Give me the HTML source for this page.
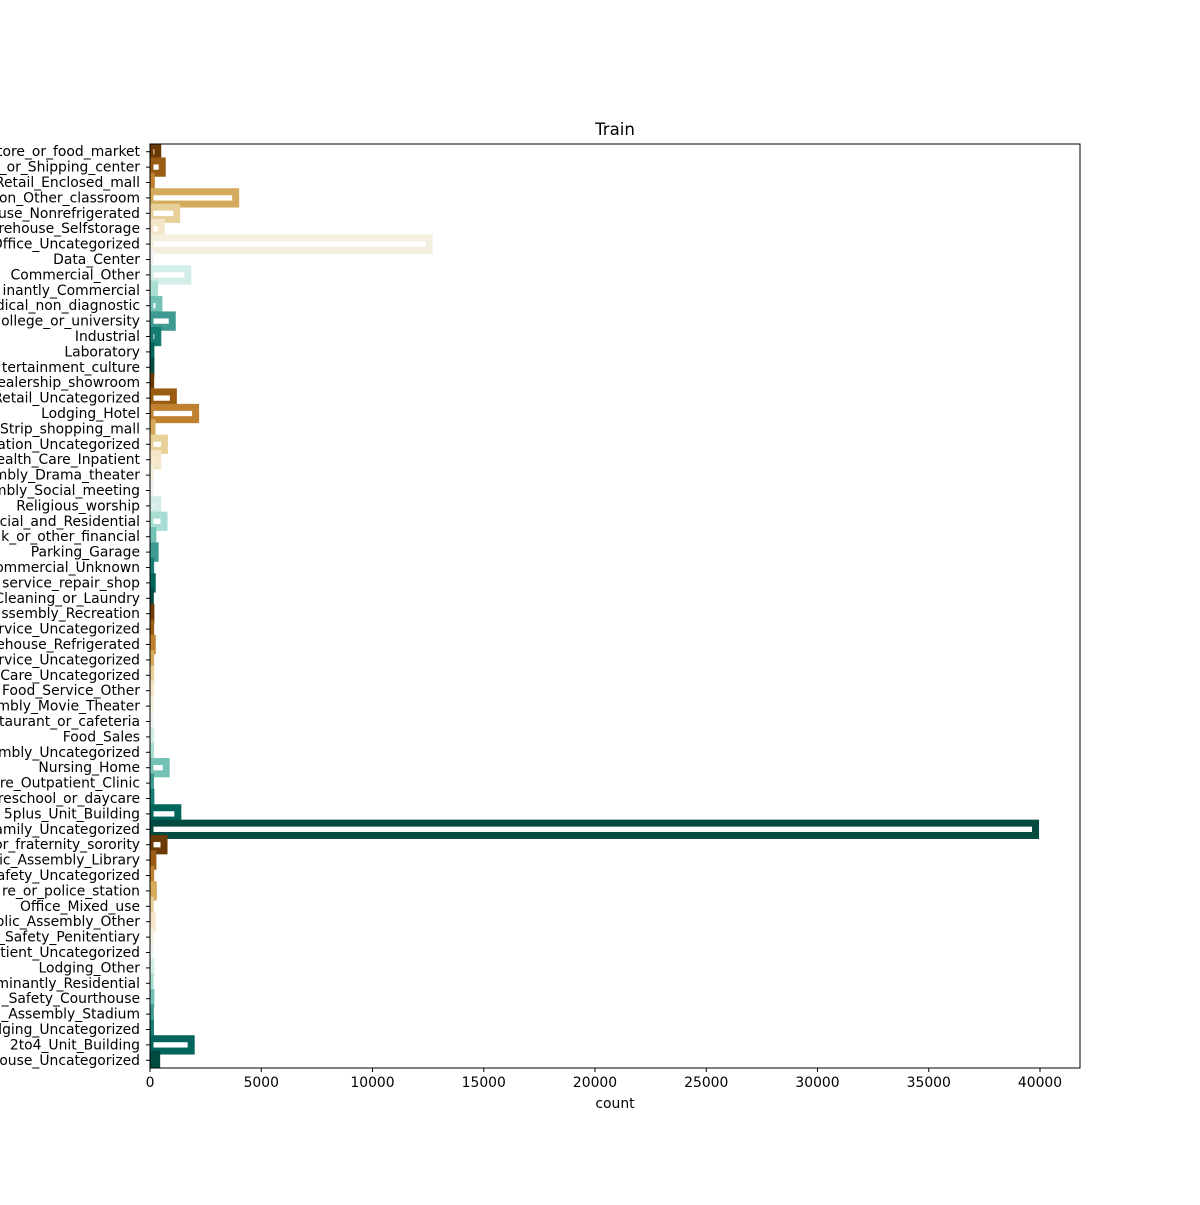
<!DOCTYPE html>
<html><head><meta charset="utf-8"><style>
body{margin:0;background:#fff;overflow:hidden;}
svg text{font-family:"DejaVu Sans","Liberation Sans",sans-serif;font-size:13.9px;fill:#000;}
</style></head><body>
<svg id="chart" width="1200" height="1200" xmlns="http://www.w3.org/2000/svg">
<defs><clipPath id="clip"><rect x="150" y="144" width="930" height="924"/></clipPath></defs>
<text x="615" y="135" text-anchor="middle" style="font-size:16.6px">Train</text>
<g id="bars" clip-path="url(#clip)"></g>
<rect x="150" y="144" width="930" height="924" fill="none" stroke="#000" stroke-width="1"/>
<g id="yax"></g><g id="xax"></g>
<text x="615" y="1108" text-anchor="middle">count</text>
</svg>
<script>
const categories=["store_or_food_market","_or_Shipping_center","Retail_Enclosed_mall","on_Other_classroom","use_Nonrefrigerated","rehouse_Selfstorage","Office_Uncategorized","Data_Center","Commercial_Other","inantly_Commercial","dical_non_diagnostic","ollege_or_university","Industrial","Laboratory","tertainment_culture","ealership_showroom","Retail_Uncategorized","Lodging_Hotel","Strip_shopping_mall","ation_Uncategorized","ealth_Care_Inpatient","mbly_Drama_theater","mbly_Social_meeting","Religious_worship","cial_and_Residential","k_or_other_financial","Parking_Garage","ommercial_Unknown","service_repair_shop","Cleaning_or_Laundry","ssembly_Recreation","rvice_Uncategorized","ehouse_Refrigerated","rvice_Uncategorized","Care_Uncategorized","Food_Service_Other","mbly_Movie_Theater","taurant_or_cafeteria","Food_Sales","mbly_Uncategorized","Nursing_Home","re_Outpatient_Clinic","reschool_or_daycare","5plus_Unit_Building","amily_Uncategorized","or_fraternity_sorority","ic_Assembly_Library","afety_Uncategorized","re_or_police_station","Office_Mixed_use","blic_Assembly_Other","_Safety_Penitentiary","tient_Uncategorized","Lodging_Other","minantly_Residential","_Safety_Courthouse","_Assembly_Stadium","lging_Uncategorized","2to4_Unit_Building","ouse_Uncategorized"];
const counts=[350,550,60,3850,1200,500,12550,5,1700,200,400,1000,350,40,40,30,1050,2050,90,650,350,20,15,350,630,130,230,30,100,15,40,30,100,30,30,15,15,10,30,20,730,20,40,1250,39800,630,130,30,150,10,100,10,5,40,5,40,15,20,1850,300];
const palette=["#6a3b07","#9a5c12","#bf812d","#d4aa5c","#e8d09a","#f4e6c8","#f5efe0","#eef5f4","#d3ede9","#a8ddd3","#74c2b6","#3f9a91","#167c72","#02655b","#014a40"];
const xTicks=[0,5000,10000,15000,20000,25000,30000,35000,40000];
const NS="http://www.w3.org/2000/svg";
const x=v=>150+v*890/40000;
const step=924/categories.length;
const y=i=>144+step*(i+0.5);
const bars=document.getElementById('bars'),yax=document.getElementById('yax'),xax=document.getElementById('xax');
categories.forEach((c,i)=>{
 const r=document.createElementNS(NS,'rect');
 
 
 r.setAttribute('x',x(0));r.setAttribute('y',y(i)-step*0.4);
 r.setAttribute('width',Math.max(0,x(counts[i])-x(0)));r.setAttribute('height',step*0.8);
 r.setAttribute('fill','none');r.setAttribute('stroke',palette[i%palette.length]);r.setAttribute('stroke-width','7');
 bars.appendChild(r);
 const t=document.createElementNS(NS,'line');
 
 
 t.setAttribute('x1',146);t.setAttribute('x2',150);t.setAttribute('y1',y(i));t.setAttribute('y2',y(i));t.setAttribute('stroke','#000');
 yax.appendChild(t);
 const l=document.createElementNS(NS,'text');
 
 
 l.setAttribute('x',140);l.setAttribute('y',y(i)+4.5);l.setAttribute('text-anchor','end');l.textContent=c;
 yax.appendChild(l);
});
xTicks.forEach(v=>{
 const t=document.createElementNS(NS,'line');
 
 
 t.setAttribute('x1',x(v));t.setAttribute('x2',x(v));t.setAttribute('y1',1068);t.setAttribute('y2',1072);t.setAttribute('stroke','#000');
 xax.appendChild(t);
 const l=document.createElementNS(NS,'text');
 
 
 l.setAttribute('x',x(v));l.setAttribute('y',1087);l.setAttribute('text-anchor','middle');l.textContent=v;
 xax.appendChild(l);
});
</script>
</body></html>
